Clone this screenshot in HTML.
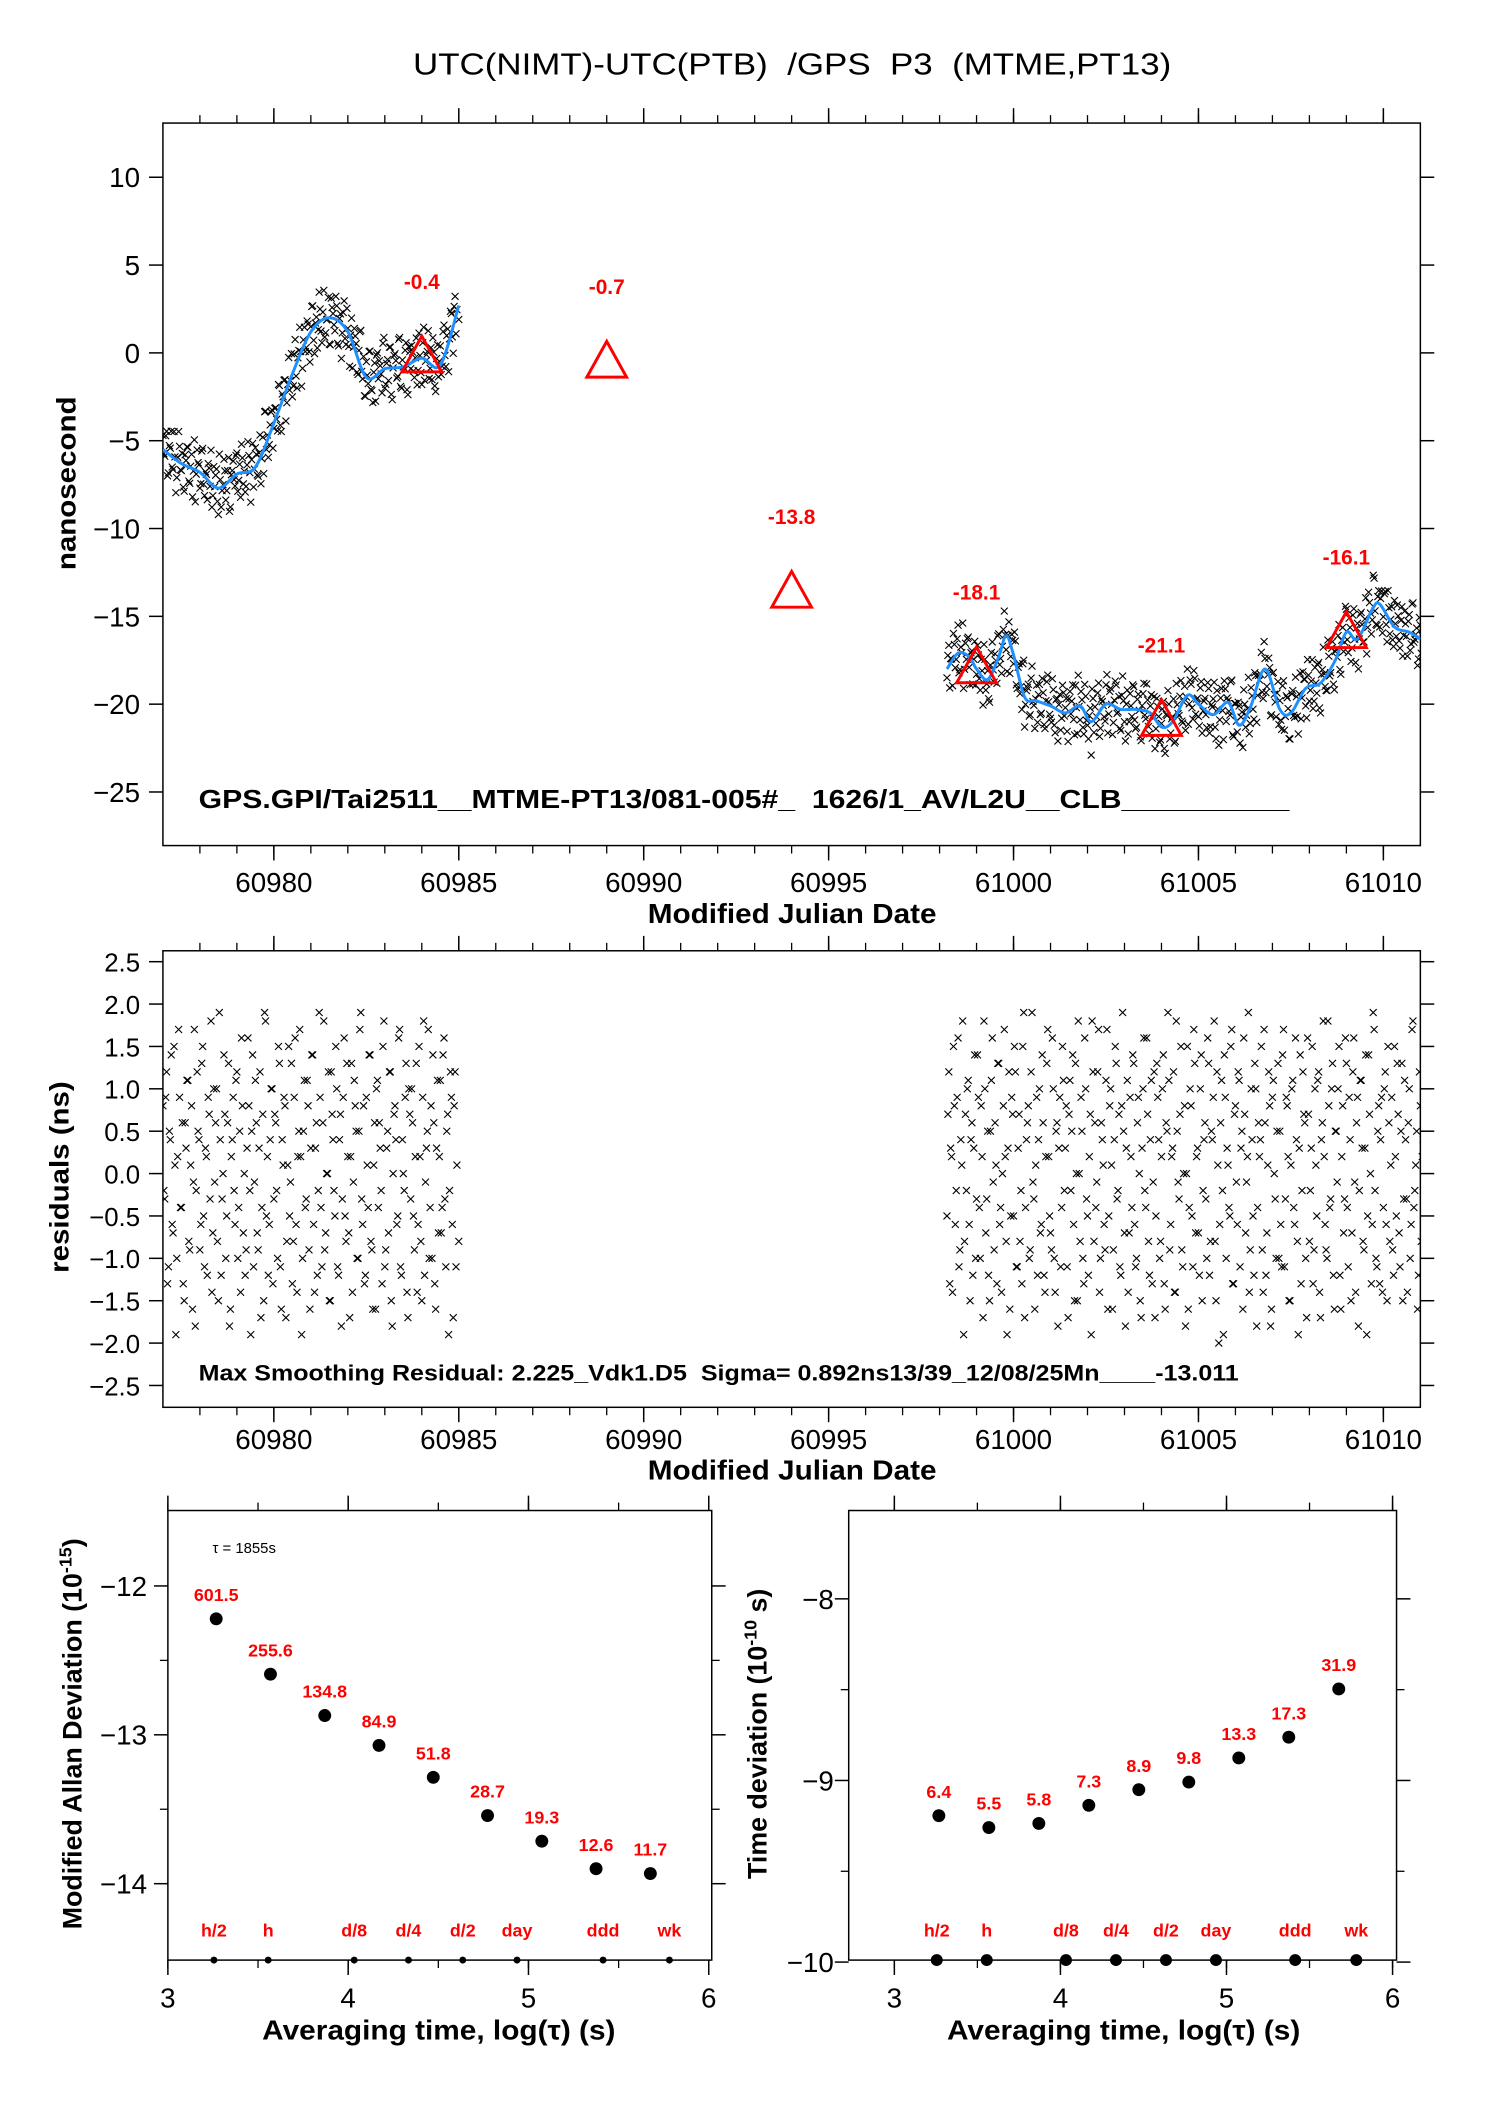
<!DOCTYPE html>
<html><head><meta charset="utf-8"><style>
html,body{margin:0;padding:0;background:#fff}
svg{display:block;font-family:"Liberation Sans",sans-serif}
</style></head><body>
<svg id="s" width="1488" height="2105" viewBox="0 0 1499 2121" xmlns="http://www.w3.org/2000/svg">
<defs>
<clipPath id="c1"><rect x="164" y="124" width="1267" height="728"/></clipPath>
<clipPath id="c2"><rect x="164" y="958" width="1267" height="460"/></clipPath>
</defs>
<text x="798" y="75" font-size="31" text-anchor="middle" textLength="764" lengthAdjust="spacingAndGlyphs" xml:space="preserve">UTC(NIMT)-UTC(PTB)  /GPS  P3  (MTME,PT13)</text>
<g id="g1"></g>
<g id="g2"></g>
<g id="g3"></g>
<g id="g4"></g>
<text x="200" y="814" font-size="26" font-weight="bold" textLength="1099" lengthAdjust="spacingAndGlyphs" xml:space="preserve">GPS.GPI/Tai2511__MTME-PT13/081-005#_  1626/1_AV/L2U__CLB__________</text>
<text x="200" y="1391" font-size="22" font-weight="bold" textLength="1048" lengthAdjust="spacingAndGlyphs" xml:space="preserve">Max Smoothing Residual: 2.225_Vdk1.D5  Sigma= 0.892ns13/39_12/08/25Mn____-13.011</text>
<text transform="translate(76,487) rotate(-90)" font-size="27" font-weight="bold" text-anchor="middle" textLength="175" lengthAdjust="spacingAndGlyphs">nanosecond</text>
<text transform="translate(69,1186) rotate(-90)" font-size="27" font-weight="bold" text-anchor="middle" textLength="193" lengthAdjust="spacingAndGlyphs">residuals (ns)</text>
<text x="798" y="930" font-size="28" font-weight="bold" text-anchor="middle" textLength="291" lengthAdjust="spacingAndGlyphs">Modified Julian Date</text>
<text x="798" y="1491" font-size="28" font-weight="bold" text-anchor="middle" textLength="291" lengthAdjust="spacingAndGlyphs">Modified Julian Date</text>
<text transform="translate(82,1747) rotate(-90)" font-size="27" font-weight="bold" text-anchor="middle">Modified Allan Deviation (10<tspan font-size="18" dy="-10">-15</tspan><tspan dy="10">)</tspan></text>
<text transform="translate(772,1747) rotate(-90)" font-size="27" font-weight="bold" text-anchor="middle">Time deviation (10<tspan font-size="18" dy="-10">-10</tspan><tspan dy="10"> s)</tspan></text>
<text x="442" y="2055" font-size="28" font-weight="bold" text-anchor="middle" textLength="356" lengthAdjust="spacingAndGlyphs">Averaging time, log(τ) (s)</text>
<text x="1132" y="2055" font-size="28" font-weight="bold" text-anchor="middle" textLength="356" lengthAdjust="spacingAndGlyphs">Averaging time, log(τ) (s)</text>
<text x="214" y="1565" font-size="15">τ = 1855s</text>
</svg>
<script>
// ---- data ----
const seg1Start = 60977.0, seg2Start = 60998.2, stepDay = 0.05;
const res1 = [0.8,-0.3,1.2,-1.1,0.4,-0.6,1.5,-1.9,0.2,0.9,-0.4,-1.3,0.6,1.1,-0.8,0.1,-1.6,1.7,-0.2,0.5,
-0.9,1.3,-0.5,0.3,-1.2,0.7,1.8,-0.7,-0.1,1.0,-1.5,0.4,-0.3,1.4,-1.0,0.6,-1.8,0.2,0.9,-0.6,
1.2,-0.4,-1.4,0.8,0.0,-0.9,1.6,-0.2,0.5,-1.1,1.1,-0.7,0.3,-1.7,0.7,1.9,-0.5,-1.2,0.4,1.0,
-0.3,0.6,-1.0,1.3,-1.6,0.1,0.8,-0.8,1.5,-0.1,-1.3,0.9,-0.6,0.2,1.7,-1.9,0.5,-0.4,1.1,-0.9,
0.3,1.4,-1.4,0.6,-0.2,0.9,-1.1,1.8,-0.7,0.0,-1.5,1.2,0.4,-0.5,1.0,-1.2,0.7,-0.3,1.6,-0.8,
0.2,-1.7,1.3,-0.1,0.8,-1.0,0.5,1.9,-0.6,-1.3,0.9,-0.4,1.4,-0.9,0.1,-1.6,1.1,0.6,-0.2,1.5,
-1.1,0.3,-0.7,1.2,-1.8,0.7,0.4,-0.5,1.7,-1.2,0.0,0.9,-1.4,1.0,-0.3,0.6,-0.9,1.3,-0.6,0.2,
-1.5,1.8,-0.1,0.5,-1.0,0.8,1.4,-1.3,0.3,-0.7,1.1,-0.4,1.6,-1.1,0.7,-0.2,0.9,-1.7,1.2,0.1,-0.8];
const res2 = [-0.5,1.2,0.3,-1.4,0.8,-0.2,1.6,-0.9,0.1,-1.9,0.7,1.0,-0.6,0.4,-1.2,1.4,-0.3,0.9,-1.0,0.2,
1.8,-0.7,0.5,-1.5,1.1,-0.1,0.6,-1.3,1.3,-0.4,0.0,1.7,-0.8,0.3,-1.6,0.9,-0.5,1.2,-1.1,0.7,
-0.2,1.5,-1.7,0.4,0.8,-0.9,1.9,-0.3,0.1,-1.2,1.0,-0.6,0.6,-1.4,1.3,0.2,-0.7,1.6,-1.0,0.5,
-1.8,0.9,-0.4,1.1,0.3,-1.1,0.7,-0.2,1.4,-1.5,0.0,1.8,-0.8,0.5,-1.3,1.0,-0.5,0.2,-1.9,1.2,
0.6,-0.1,1.7,-1.0,0.4,-0.6,1.1,-1.6,0.8,0.1,-0.9,1.5,-0.3,0.7,-1.2,1.9,-0.7,0.3,-1.4,0.9,
-0.4,1.3,-1.1,0.6,0.0,-1.7,1.0,-0.2,1.6,-0.8,0.4,-1.3,1.2,-0.5,0.9,-1.0,0.2,1.4,-1.6,0.5,
1.1,-0.6,0.3,-1.4,1.8,-0.1,0.7,-0.9,0.0,-1.8,1.5,-0.4,0.8,-1.1,1.3,0.2,-0.7,1.0,-1.5,0.4,
-0.3,1.6,-1.2,0.5,0.9,-0.8,1.2,-2.0,0.6,-0.2,1.4,-1.0,0.1,-0.5,1.7,-1.3,0.8,-0.6,1.1,0.3,
-1.6,0.7,-0.1,1.9,-0.9,0.4,-1.2,1.0,-0.4,0.2,1.5,-1.4,0.6,-0.7,1.2,-1.8,0.9,0.0,-1.0,1.3,
0.5,-1.1,1.7,-0.3,0.8,-1.5,0.1,1.1,-0.6,0.4,-1.9,1.4,-0.2,0.7,-1.0,1.6,-0.8,0.3,-1.3,1.0,
-0.5,1.2,-1.7,0.6,0.2,-0.9,1.8,-0.4,1.0,-1.2,0.5,-0.1,1.5,-1.6,0.8,-0.3,1.3,-1.1,0.4,-0.7,
1.6,-1.4,0.9,-0.2,1.1,-0.8,0.3,-1.9,1.4,0.0,-0.6,1.7,-1.0,0.5,-1.3,0.9,-0.4,1.2,-1.5,0.6,
0.1,-0.9,1.5,-0.5,0.7,-1.1,1.3,-0.3,0.4,-1.4,1.0,-0.6,1.8,-0.2,0.5,-1.2,0.8,0.2,-0.8];
const res1b = [-0.2,0.9,-1.3,0.5,1.4,-0.7,0.1,-1.0,1.7,-0.4,0.6,-1.5,0.3,1.1,-0.9,0.8,-0.1,-1.8,1.2,0.4,
-0.6,1.5,-1.1,0.2,0.9,-0.3,-1.4,1.0,0.6,-0.8,1.9,-1.2,0.0,0.7,-0.5,1.3,-1.6,0.4,-0.2,1.1,
-1.0,0.5,1.6,-0.7,-1.2,0.3,0.8,-1.9,1.4,-0.1,0.6,-0.9,1.2,-0.4,-1.5,1.8,0.2,-0.6,1.0,-1.3,
0.7,-0.2,1.5,-1.1,0.4,0.9,-1.7,0.1,-0.5,1.3,-0.8,1.6,-1.4,0.5,0.2,-1.0,1.1,-0.3,0.8,-1.6,
1.4,-0.6,0.3,-1.2,1.9,-0.4,0.6,-0.9,0.0,1.2,-1.5,0.7,-0.2,1.5,-1.1,0.4,-1.8,0.9,-0.5,1.3,
-0.7,0.2,-1.4,1.1,0.5,-1.0,1.7,-0.3,0.8,-1.2,0.1,1.4,-0.8,-1.6,0.6,1.0,-0.4,0.3,-1.3,1.8,
-0.9,0.5,1.2,-1.5,0.0,0.8,-0.6,1.6,-1.1,0.4,-0.2,1.3,-1.7,0.7,1.0,-0.5,0.2,-1.4,1.5,-0.8,
0.9,-1.2,0.3,1.7,-0.4,-1.0,0.6,-1.6,1.1,0.2,-0.7,1.4,-0.3,0.5,-1.9,1.2,-0.6,0.8,-1.1];
const res2b = [0.7,-1.3,0.2,1.5,-0.6,0.9,-1.1,0.4,1.8,-0.8,-0.2,1.1,-1.5,0.6,0.3,-1.0,1.4,-0.4,0.8,-1.7,
1.0,-0.3,-1.2,0.5,1.6,-0.9,0.1,1.3,-0.6,-1.4,0.8,0.2,-1.9,1.2,-0.5,0.7,1.5,-1.1,0.3,-0.8,
-1.3,1.9,-0.4,0.6,-1.0,1.2,-0.1,-1.6,0.9,0.4,-0.7,1.4,-1.2,0.2,1.7,-0.5,-0.9,1.0,-1.4,0.6,
0.3,-1.1,1.5,-0.2,0.8,-1.7,1.1,0.5,-0.6,1.3,-1.5,0.0,0.9,-1.0,1.6,-0.3,-1.2,0.7,1.8,-0.8,
-0.4,1.2,-1.4,0.6,0.1,-0.9,1.7,-0.5,1.0,-1.6,0.4,1.3,-0.2,-1.1,0.8,0.5,-1.8,1.1,-0.7,0.2,
1.4,-0.6,-1.0,0.9,-1.5,0.3,1.6,-0.4,0.7,-1.2,1.1,-0.1,-1.7,1.3,0.4,-0.8,1.0,-1.3,0.6,1.9,
-0.9,0.2,1.2,-1.4,0.5,-0.3,1.5,-1.1,0.8,0.0,-1.6,1.0,-0.5,1.7,-0.7,0.3,-1.2,1.4,-0.2,0.6,
-1.0,1.3,-0.8,0.4,1.8,-1.5,0.1,-0.6,1.1,-1.9,0.9,0.3,-0.4,1.5,-1.3,0.7,-0.1,1.2,-1.1,0.5,
1.6,-0.7,0.2,-1.4,1.0,-0.5,1.3,-1.8,0.6,0.4,-0.9,1.7,-1.2,0.1,0.8,-1.6,1.1,-0.3,0.5,-1.0,
-0.6,1.4,-1.1,0.9,0.2,-1.5,1.0,-0.4,1.6,-0.8,0.3,-1.3,1.2,0.6,-1.7,0.7,-0.2,1.5,-0.9,0.1,
1.1,-1.4,0.4,1.8,-0.6,-1.0,0.8,-0.3,1.3,-1.6,0.5,1.0,-1.2,0.2,-0.7,1.6,-0.4,0.9,-1.5,1.2,
-0.1,0.6,-1.8,1.1,0.3,-0.9,1.4,-0.5,0.7,-1.3,1.9,-0.2,-1.1,0.8,0.4,-1.4,1.0,-0.6,1.5,-0.8,
0.9,-1.2,0.2,1.3,-0.7,0.5,-1.5,1.1,-0.3,0.6,-1.0,1.7,-0.4,0.1,-1.6,1.2,-0.8,0.4];
const smooth1T = [60977.0,60977.5,60978.0,60978.5,60979.0,60979.5,60980.0,60980.5,60981.0,60981.5,60982.0,60982.5,60983.0,60983.5,60984.0,60984.5,60985.0];
const smooth1V = [-5.5,-6.3,-6.8,-7.7,-6.9,-6.5,-4.0,-1.2,1.2,2.0,1.2,-1.4,-0.9,-0.8,-0.3,-0.7,2.7];
const smooth2T = [60998.2,60998.5,60998.8,60999.0,60999.3,60999.6,60999.8,61000.0,61000.3,61000.6,61001.0,61001.4,61001.8,61002.1,61002.5,61002.9,61003.3,61003.7,61004.0,61004.3,61004.7,61005.0,61005.4,61005.8,61006.1,61006.4,61006.8,61007.2,61007.5,61007.9,61008.3,61008.7,61009.0,61009.3,61009.7,61009.9,61010.3,61010.7,61011.0];
const smooth2V = [-18.0,-17.1,-17.3,-18.0,-18.6,-17.3,-16.1,-17.2,-19.6,-19.8,-20.1,-20.5,-20.1,-21.0,-20.0,-20.3,-20.3,-20.5,-21.3,-21.0,-19.5,-20.0,-20.6,-19.9,-21.2,-20.2,-18.0,-20.3,-20.5,-19.1,-18.8,-17.5,-15.9,-16.3,-14.6,-14.3,-15.6,-15.9,-16.3];
const triMJD = [60984,60989,60994,60999,61004,61009];
const triVal = [-0.4,-0.7,-13.8,-18.1,-21.1,-16.1];
const mdevLogTau = [3.268,3.569,3.870,4.171,4.472,4.773,5.074,5.375,5.676];
const mdevVals = [601.5,255.6,134.8,84.9,51.8,28.7,19.3,12.6,11.7];
const tdevVals = [6.4,5.5,5.8,7.3,8.9,9.8,13.3,17.3,31.9];
const markNames = ["h/2","h","d/8","d/4","d/2","day","ddd","wk"];
const markSec = [1800,3600,10800,21600,43200,86400,259200,604800];
const mjdTicks = [60980,60985,60990,60995,61000,61005,61010];
const nsTicks = [10,5,0,-5,-10,-15,-20,-25];
const resTicks = [2.5,2.0,1.5,1.0,0.5,0.0,-0.5,-1.0,-1.5,-2.0,-2.5];
const mdevTicks = [-12,-13,-14];
const tdevTicks = [-8,-9,-10];
const logTicks = [3,4,5,6];

const NS="http://www.w3.org/2000/svg";
function mk(p,tag,a){const e=document.createElementNS(NS,tag);for(const k in a)e.setAttribute(k,a[k]);p.appendChild(e);return e;}
function lin(d0,d1,r0,r1){return v=>r0+(v-d0)*(r1-r0)/(d1-d0);}
function interp(T,V,t){if(t<=T[0])return V[0];for(let i=1;i<T.length;i++){if(t<=T[i]){const f=(t-T[i-1])/(T[i]-T[i-1]);return V[i-1]+f*(V[i]-V[i-1]);}}return V[V.length-1];}
function minus(v){return String(v).replace('-','−');}

function frame(g,L,T,R,B,name){
  const r=mk(g,'rect',{x:L,y:T,width:R-L,height:B-T,fill:'none',stroke:'#000','stroke-width':1.5});
  
  
}
function xTicks(g,sx,T,B,major,minorFrom,minorTo,minorStep,fs,labY,name,fmt){
  for(let v=minorFrom;v<=minorTo+1e-9;v+=minorStep){const x=sx(v);
    mk(g,'line',{x1:x,y1:B,x2:x,y2:B+8,stroke:'#000','stroke-width':1.3});
    mk(g,'line',{x1:x,y1:T,x2:x,y2:T-8,stroke:'#000','stroke-width':1.3});}
  major.forEach(v=>{const x=sx(v);
    mk(g,'line',{x1:x,y1:B,x2:x,y2:B+15,stroke:'#000','stroke-width':1.5});
    mk(g,'line',{x1:x,y1:T,x2:x,y2:T-15,stroke:'#000','stroke-width':1.5});
    const t=mk(g,'text',{x:x,y:labY,'font-size':fs,'text-anchor':'middle'});t.textContent=fmt?fmt(v):v;
    
    });
}
function yTicks(g,sy,L,R,major,minor,fs,labX,name,fmt){
  minor.forEach(v=>{const y=sy(v);
    mk(g,'line',{x1:L,y1:y,x2:L-8,y2:y,stroke:'#000','stroke-width':1.3});
    mk(g,'line',{x1:R,y1:y,x2:R+8,y2:y,stroke:'#000','stroke-width':1.3});});
  major.forEach(v=>{const y=sy(v);
    mk(g,'line',{x1:L,y1:y,x2:L-14,y2:y,stroke:'#000','stroke-width':1.5});
    mk(g,'line',{x1:R,y1:y,x2:R+14,y2:y,stroke:'#000','stroke-width':1.5});
    const t=mk(g,'text',{x:labX,y:y+10,'font-size':fs,'text-anchor':'end'});t.textContent=fmt?fmt(v):minus(v);
    
    });
}
function cross(g,x,y){mk(g,'path',{d:`M${x-3.5},${y-3.5}L${x+3.5},${y+3.5}M${x-3.5},${y+3.5}L${x+3.5},${y-3.5}`,stroke:'#000','stroke-width':1.1});}
function curvePath(pts){let d=`M${pts[0][0]},${pts[0][1]}`;for(let i=0;i<pts.length-1;i++){const p0=pts[Math.max(0,i-1)],p1=pts[i],p2=pts[i+1],p3=pts[Math.min(pts.length-1,i+2)];
  d+=`C${p1[0]+(p2[0]-p0[0])/6},${p1[1]+(p2[1]-p0[1])/6} ${p2[0]-(p3[0]-p1[0])/6},${p2[1]-(p3[1]-p1[1])/6} ${p2[0]},${p2[1]}`;}return d;}
const sets=[[res1,seg1Start,smooth1T,smooth1V],[res1b,seg1Start+stepDay/2,smooth1T,smooth1V],[res2,seg2Start,smooth2T,smooth2V],[res2b,seg2Start+stepDay/2,smooth2T,smooth2V]];

// ---- panel 1 ----
(function(){
  const g=document.getElementById('g1');
  const L=164,R=1431,T=124,B=852;
  const sx=lin(60977,61011,L,R), sy=lin(10,-25,178.6,798);
  frame(g,L,T,R,B,'top-plot-frame');
  xTicks(g,sx,T,B,mjdTicks,60978,61010,1,28,899,'x-tick-label');
  yTicks(g,sy,L,R,nsTicks,[],28,141,'y-tick-label');
  const pg=mk(g,'g',{'clip-path':'url(#c1)'});
  
  
  sets.forEach(([arr,st,TT,VV])=>arr.forEach((r,i)=>{const t=st+i*stepDay;cross(pg,sx(t),sy(interp(TT,VV,t)+r));}));
  [[smooth1T,smooth1V],[smooth2T,smooth2V]].forEach(([TT,VV])=>{
    const p=mk(pg,'path',{d:curvePath(TT.map((t,i)=>[sx(t),sy(VV[i])])),fill:'none',stroke:'#1e90ff','stroke-width':3});
    
    });
  triMJD.forEach((m,i)=>{const x=sx(m),y=sy(triVal[i]);
    const p=mk(g,'path',{d:`M${x},${y-24}L${x+20},${y+12}L${x-20},${y+12}Z`,fill:'none',stroke:'#f00','stroke-width':3});
    
    
    const t=mk(g,'text',{x:x,y:sy(triVal[i]+4.5)+8,'font-size':21,'font-weight':'bold',fill:'#f00','text-anchor':'middle'});t.textContent=triVal[i];
    
    });
})();

// ---- panel 2 ----
(function(){
  const g=document.getElementById('g2');
  const L=164,R=1431,T=958,B=1418;
  const sx=lin(60977,61011,L,R), sy=lin(2.5,-2.5,969,1396);
  frame(g,L,T,R,B,'residual-plot-frame');
  xTicks(g,sx,T,B,mjdTicks,60978,61010,1,28,1460,'x-tick-label');
  yTicks(g,sy,L,R,resTicks,[],26,141,'y-tick-label',v=>minus(v.toFixed(1)));
  const pg=mk(g,'g',{'clip-path':'url(#c2)'});
  
  
  sets.forEach(([arr,st])=>arr.forEach((r,i)=>cross(pg,sx(st+i*stepDay),sy(r))));
})();

// ---- stability panels ----
function stab(id,L,R,sx,sy,vals,exp,yt,ytMinor,labX,bigDot,name){
  const g=document.getElementById(id);
  const T=1522,B=1975;
  frame(g,L,T,R,B,name+'-frame');
  xTicks(g,sx,T,B,logTicks,3,6,0.5,28,2023,'x-tick-label');
  yTicks(g,sy,L,R,yt,ytMinor,28,labX,'y-tick-label');
  mdevLogTau.forEach((lt,i)=>{const x=sx(lt),y=sy(Math.log10(vals[i]*Math.pow(10,exp)));
    const c=mk(g,'circle',{cx:x,cy:y,r:6.5,fill:'#000'});
    
    
    const t=mk(g,'text',{x:x,y:y-18,'font-size':18,'font-weight':'bold',fill:'#f00','text-anchor':'middle'});t.textContent=vals[i];
    
    });
  markSec.forEach((s,i)=>{const x=sx(Math.log10(s));
    mk(g,'circle',{cx:x,cy:B,r:bigDot?6:3.5,fill:'#000'});
    const t=mk(g,'text',{x:x,y:B-24,'font-size':18,'font-weight':'bold',fill:'#f00','text-anchor':'middle'});t.textContent=markNames[i];
    
    });
}
stab('g3',169,717,lin(3,6,169,714),lin(-12,-13,1598,1748),mdevVals,-15,mdevTicks,[-12.5,-13.5],148,false,'mdev');
stab('g4',855,1407,lin(3,6,901,1403),lin(-8,-9,1611,1794),tdevVals,-10,tdevTicks,[-8.5,-9.5],840,true,'tdev');
</script>
</body></html>
